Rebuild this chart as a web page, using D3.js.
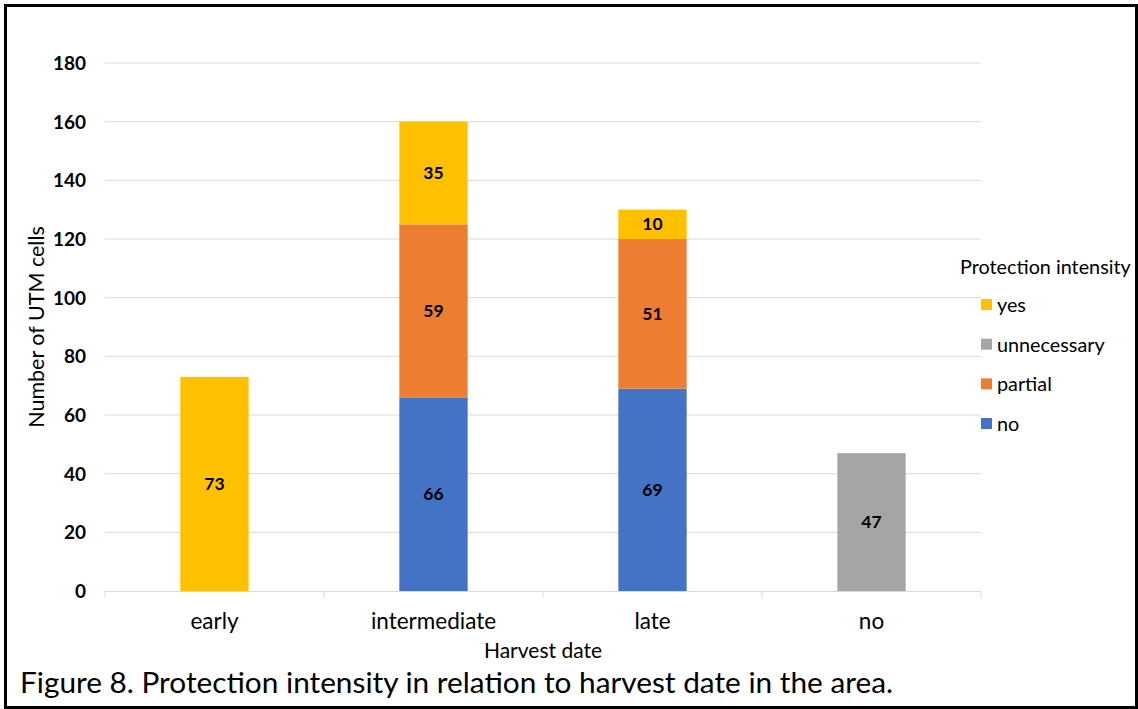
<!DOCTYPE html>
<html>
<head>
<meta charset="utf-8">
<script src="https://cdn.jsdelivr.net/npm/d3@7"></script>
<style>
  html, body { margin: 0; padding: 0; background: #fff; }
  svg { display: block; }
  text { font-family: Lato, "Open Sans", sans-serif; fill: #000; }
</style>
</head>
<body>
<svg id="chart" width="1138" height="709"></svg>
<script>
// Harvest-date categories and the number of UTM cells per protection intensity
const categories = ["early", "intermediate", "late", "no"];
const seriesNames = ["no", "partial", "unnecessary", "yes"];
const noValues = [0, 66, 69, 0];
const partialValues = [0, 59, 51, 0];
const unnecessaryValues = [0, 0, 0, 47];
const yesValues = [73, 35, 10, 0];
const yTicks = [0, 20, 40, 60, 80, 100, 120, 140, 160, 180];
const legendOrder = ["yes", "unnecessary", "partial", "no"];

const colors = {
  no: "#4472C4",
  partial: "#ED7D31",
  unnecessary: "#A5A5A5",
  yes: "#FFC000"
};

const rows = categories.map((c, i) => ({
  category: c,
  no: noValues[i],
  partial: partialValues[i],
  unnecessary: unnecessaryValues[i],
  yes: yesValues[i]
}));

const svg = d3.select("#chart");
const plot = { left: 105, right: 981, top: 63, bottom: 591 };

const x = d3.scaleBand().domain(categories).range([plot.left, plot.right]);
const y = d3.scaleLinear().domain([0, 180]).range([plot.bottom, plot.top]);
const barW = x.bandwidth() * 0.312;

// Horizontal gridlines
svg.append("g")
  .selectAll("line")
  .data(yTicks.filter(t => t > 0))
  .join("line")
  .attr("x1", plot.left).attr("x2", plot.right)
  .attr("y1", d => y(d)).attr("y2", d => y(d))
  .attr("stroke", "#d9d9d9").attr("stroke-width", 1);

// Y-axis tick labels
const yAxis = d3.axisLeft(y).tickValues(yTicks).tickSize(0).tickPadding(0);
const gy = svg.append("g").attr("transform", `translate(${plot.left - 19},0)`).call(yAxis);
gy.select(".domain").remove();
gy.selectAll("text")
  .attr("font-family", "Lato, sans-serif")
  .attr("font-size", 19).attr("font-weight", "bold").attr("fill", "#000")
  .attr("dy", "0.35em");

// Stacked bars
const stack = d3.stack().keys(seriesNames);
const stacked = stack(rows);

const layers = svg.append("g")
  .selectAll("g")
  .data(stacked)
  .join("g")
  .attr("fill", d => colors[d.key]);

layers.selectAll("rect")
  .data(d => d.map(v => ({ key: d.key, v })))
  .join("rect")
  .filter(d => d.v[1] - d.v[0] > 0)
  .attr("x", d => x(d.v.data.category) + (x.bandwidth() - barW) / 2)
  .attr("width", barW)
  .attr("y", d => y(d.v[1]))
  .attr("height", d => y(d.v[0]) - y(d.v[1]));

// Segment value labels
const labels = [];
stacked.forEach(s => s.forEach(v => {
  const val = v[1] - v[0];
  if (val > 0) labels.push({ cat: v.data.category, mid: (v[0] + v[1]) / 2, val });
}));
svg.append("g")
  .selectAll("text")
  .data(labels)
  .join("text")
  .attr("x", d => x(d.cat) + x.bandwidth() / 2)
  .attr("y", d => y(d.mid))
  .attr("dy", "0.35em")
  .attr("text-anchor", "middle")
  .attr("font-size", 17.5).attr("font-weight", "bold")
  .text(d => d.val);

// X axis baseline with category-boundary ticks
const base = svg.append("g");
base.append("line")
  .attr("x1", plot.left).attr("x2", plot.right)
  .attr("y1", plot.bottom + 0.5).attr("y2", plot.bottom + 0.5)
  .attr("stroke", "#d9d9d9").attr("stroke-width", 1);
const bounds = categories.map(c => x(c)).concat([x(categories[categories.length - 1]) + x.bandwidth()]);
base.selectAll("line.tick")
  .data(bounds)
  .join("line")
  .attr("class", "tick")
  .attr("x1", d => d).attr("x2", d => d)
  .attr("y1", plot.bottom).attr("y2", plot.bottom + 7)
  .attr("stroke", "#d9d9d9").attr("stroke-width", 1);

// Category labels
svg.append("g")
  .selectAll("text")
  .data(categories)
  .join("text")
  .attr("x", d => x(d) + x.bandwidth() / 2)
  .attr("y", 629)
  .attr("text-anchor", "middle")
  .attr("font-size", 22.5)
  .attr("fill", "#222")
  .text(d => d);

// Axis titles
svg.append("text")
  .attr("x", (plot.left + plot.right) / 2).attr("y", 658)
  .attr("text-anchor", "middle").attr("font-size", 21).attr("fill", "#222")
  .text("Harvest date");

svg.append("text")
  .attr("transform", `translate(44,${(plot.top + plot.bottom) / 2}) rotate(-90)`)
  .attr("text-anchor", "middle").attr("font-size", 21.5).attr("fill", "#222")
  .text("Number of UTM cells");

// Legend
const legend = svg.append("g");
legend.append("text")
  .attr("x", 960).attr("y", 274)
  .attr("font-size", 19.8).attr("fill", "#222")
  .text("Protection intensity");
const legendY = d3.scalePoint().domain(legendOrder).range([305, 424]);
const li = legend.selectAll("g.item")
  .data(legendOrder)
  .join("g")
  .attr("class", "item")
  .attr("transform", d => `translate(981,${legendY(d)})`);
li.append("rect")
  .attr("x", 0).attr("y", -6).attr("width", 11).attr("height", 11)
  .attr("fill", d => colors[d]);
li.append("text")
  .attr("x", 16).attr("y", 0).attr("dy", "0.35em")
  .attr("font-size", 19.8).attr("fill", "#222")
  .text(d => d);

// Caption
svg.append("text")
  .attr("x", 20).attr("y", 693)
  .attr("font-size", 28)
  .attr("textLength", 873).attr("lengthAdjust", "spacingAndGlyphs")
  .text("Figure 8. Protection intensity in relation to harvest date in the area.");

// Frame
svg.append("rect")
  .attr("x", 5.5).attr("y", 5.5).attr("width", 1131).attr("height", 702)
  .attr("fill", "none").attr("stroke", "#000").attr("stroke-width", 3);
</script>
</body>
</html>
